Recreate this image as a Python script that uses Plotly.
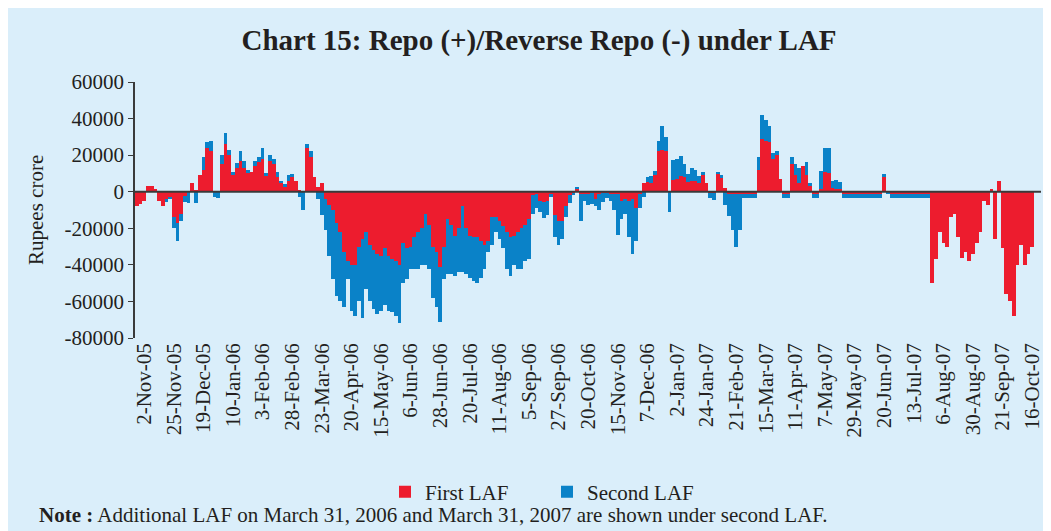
import plotly.graph_objects as go

# Tick labels (every 8th bar, starting at bar 2)
tick_labels = ["2-Nov-05", "25-Nov-05", "19-Dec-05", "10-Jan-06", "3-Feb-06", "28-Feb-06",
               "23-Mar-06", "20-Apr-06", "15-May-06", "6-Jun-06", "28-Jun-06", "20-Jul-06",
               "11-Aug-06", "5-Sep-06", "27-Sep-06", "20-Oct-06", "15-Nov-06", "7-Dec-06",
               "2-Jan-07", "24-Jan-07", "21-Feb-07", "15-Mar-07", "11-Apr-07", "7-May-07",
               "29-May-07", "20-Jun-07", "13-Jul-07", "6-Aug-07", "30-Aug-07", "21-Sep-07",
               "16-Oct-07"]
tick_positions = [2 + 8 * k for k in range(len(tick_labels))]

y_tick_vals = [-80000, -60000, -40000, -20000, 0, 20000, 40000, 60000]
y_tick_text = ["-80000", "-60000", "-40000", "-20000", "0", "20000", "40000", "60000"]

# First LAF (Rupees crore)
first_laf = [
    -8000, -6500, -5000, 3000, 3000, 1500, -5000, -8000, -4000, -3000,
    -14000, -17000, -12000, -2500, 0, 5000, 1000, 9000, 12000, 24000,
    22000, 0, 0, 15000, 26000, 20000, 9000, 13000, 17000, 13000,
    10000, 11000, 14000, 16000, 18000, 9000, 17000, 15000, 8000, 5000,
    3000, 6000, 8000, 6000, 1000, 0, 24000, 19000, 8000, 2500,
    5000, -4000, -7000, -10000, -17000, -22000, -33000, -38000, -40000, -40000,
    -30000, -26000, -22000, -29000, -32000, -34000, -35000, -31000, -35000, -37000,
    -38000, -40000, -28000, -31000, -30000, -25000, -22000, -20000, -12000, -18000,
    -30000, -33000, -41000, -30000, -15000, -18000, -24000, -20000, -8000, -20000,
    -24000, -25000, -25000, -27000, -29000, -27000, -14000, -14000, -16000, -19000,
    -22000, -25000, -24000, -22000, -20000, -18000, -15000, -2000, -1000, -5000,
    -5500, -5000, -1000, -13000, -16000, -16000, -8000, -2000, -1000, 1500,
    -1000, -1000, -1500, -500, -4000, -1000, -500, -500, -1000, -1000,
    -1500, -5000, -4000, -5000, -4000, -9000, -1000, 5000, 5500, 5000,
    9000, 22000, 23000, 22000, 0, 6500, 7000, 8500, 8000, 5500,
    6000, 6000, 4500, 9000, 4500, -500, -500, 10000, 8000, 2000,
    -1500, -1000, -1000, -1000, -1500, -1500, -1500, -1500, 12000, 29000,
    28000, 27000, 18000, 20000, 7000, -1500, -1500, 15000, 9000, 5000,
    14000, 9000, 3000, -1500, -1500, 1500, 11000, 10000, 2000, 1500,
    1500, -1500, -1500, -1500, -1500, -1500, -1500, -1500, -1500, -1500,
    -1500, -1500, 8000, -500, -1500, -1500, -1500, -1500, -1500, -1500,
    -1500, -1500, -1500, -1500, -1500, -50000, -37000, -22000, -28000, -30000,
    -14000, -12000, -25000, -36000, -33000, -38000, -34000, -28000, -22000, -5000,
    -7000, 1500, -26000, 6000, -31000, -56000, -60000, -68000, -40000, -29000,
    -40000, -34000, -30000,
]

# Second LAF (Rupees crore)
second_laf = [
    0, 0, 0, 0, 0, 0, 0, 0, -1500, -1000,
    -6000, -10000, -4000, -3000, -6000, 0, -6000, 0, 7000, 3000,
    6000, -3000, -3500, 5000, 6000, 3000, 2000, 2500, 5000, 4000,
    2000, 0, 3000, 3000, 6000, 1000, 3000, 3000, 3000, 1000,
    1000, 3000, 1500, 0, -3000, -10000, 2000, 3000, 0, -4000,
    -13000, -17000, -28000, -38000, -40000, -38000, -30000, -10000, -25000, -28000,
    -30000, -43000, -31000, -31000, -32000, -33000, -30000, -31000, -30000, -29000,
    -30000, -32000, -22000, -17000, -12000, -17000, -20000, -20000, -28000, -24000,
    -28000, -30000, -30000, -18000, -30000, -27000, -22000, -24000, -36000, -25000,
    -23000, -24000, -25000, -20000, -13000, -6000, -15000, -8000, -10000, -12000,
    -20000, -21000, -16000, -20000, -22000, -20000, -22000, -10000, -8000, -6000,
    -9000, -8000, -2000, -12000, -13000, -10000, -6000, -4000, -1000, 1000,
    -15000, -4000, -6000, -6000, -4000, -9000, -5000, -3000, -4000, -9000,
    -22000, -10000, -8000, -20000, -30000, -18000, -8000, -3000, 2500, 3500,
    2500, 6000, 13000, 8000, -11000, 11000, 11000, 11000, 7000, 4000,
    7000, 6000, 4000, 2000, 0, -3000, -4000, 1000, 1000, -7000,
    -12000, -20000, -29000, -20000, -2000, -2000, -2000, -2000, 7000, 13000,
    11000, 9000, 3000, 2500, 0, -2000, -2000, 4000, 6000, 8000,
    0, 7000, 2000, -2000, -2000, 10000, 13000, 14000, 4000, 5000,
    4000, -2000, -2000, -2000, -2000, -2000, -2000, -2000, -2000, -2000,
    -2000, -2000, 1500, -1000, -2000, -2000, -2000, -2000, -2000, -2000,
    -2000, -2000, -2000, -2000, -2000, 0, 0, 0, 0, 0,
    0, 0, 0, 0, 0, 0, 0, 0, 0, 0,
    0, 0, 0, 0, 0, 0, 0, 0, 0, 0,
    0, 0, 0,
]

assert len(first_laf) == len(second_laf) == 243
x_idx = list(range(len(first_laf)))

RED = "#ED1C2E"
BLUE = "#0A82C8"
BG = "#DAEEFA"
INK = "#231F20"
FONT = "Liberation Serif"

fig = go.Figure()
fig.add_trace(go.Bar(x=x_idx, y=first_laf, name="First LAF",
                     marker=dict(color=RED, line=dict(width=0))))
fig.add_trace(go.Bar(x=x_idx, y=second_laf, name="Second LAF",
                     marker=dict(color=BLUE, line=dict(width=0))))

# page is offset by 8px (body margin); figure coords = page coords - 8
W, H = 1035, 523
L, R, T, B = 127, 9, 74, 193
pw, ph = W - L - R, H - T - B


def px_x(px):
    return (px - L) / pw


def px_y(py):
    return (ph - (py - T)) / ph


fig.update_layout(
    width=W, height=H,
    margin=dict(l=L, r=R, t=T, b=B, autoexpand=False),
    paper_bgcolor=BG, plot_bgcolor=BG,
    barmode="relative", bargap=0,
    font=dict(family=FONT, color=INK, size=21),
    title=dict(text="<b>Chart 15: Repo (+)/Reverse Repo (-) under LAF</b>",
               x=531 / W, xref="container", xanchor="center",
               y=1 - 32 / H, yref="container", yanchor="middle",
               font=dict(family=FONT, size=29, color=INK)),
    xaxis=dict(range=[-0.5, 242.5], tickmode="array", tickvals=tick_positions,
               ticktext=tick_labels, tickangle=-90, showgrid=False, zeroline=False,
               showline=False, ticks="", automargin=False, ticklabeloverflow="allow",
               tickfont=dict(family=FONT, size=21, color=INK)),
    yaxis=dict(range=[-80000, 60000], tickmode="array", tickvals=y_tick_vals,
               ticktext=y_tick_text, showgrid=False, zeroline=False,
               showline=True, linecolor="#3a3a3a", linewidth=1.5,
               ticks="outside", ticklen=5, tickcolor="#3a3a3a", automargin=False,
               tickfont=dict(family=FONT, size=21, color=INK)),
    legend=dict(orientation="h", x=px_x(377), xanchor="left",
                y=px_y(484), yanchor="middle",
                entrywidth=117, traceorder="normal",
                font=dict(family=FONT, size=21, color=INK),
                bgcolor="rgba(0,0,0,0)"),
    showlegend=True,
)

# zero line above bars
fig.add_shape(type="line", xref="paper", yref="y", x0=0, x1=px_x(1033), y0=0, y1=0,
              line=dict(color="#3a3a3a", width=2), layer="above")

fig.add_annotation(text="Rupees crore", textangle=-90, xref="paper", yref="paper",
                   x=px_x(28), y=px_y(202), xanchor="center", yanchor="middle",
                   showarrow=False, font=dict(family=FONT, size=21, color=INK))
fig.add_annotation(text="<b>Note :</b> Additional LAF on March 31, 2006 and March 31, 2007 are shown under second LAF.",
                   xref="paper", yref="paper", x=px_x(29), y=px_y(507),
                   xanchor="left", yanchor="middle", showarrow=False,
                   font=dict(family=FONT, size=21, color=INK))

fig.write_html("out.html")
